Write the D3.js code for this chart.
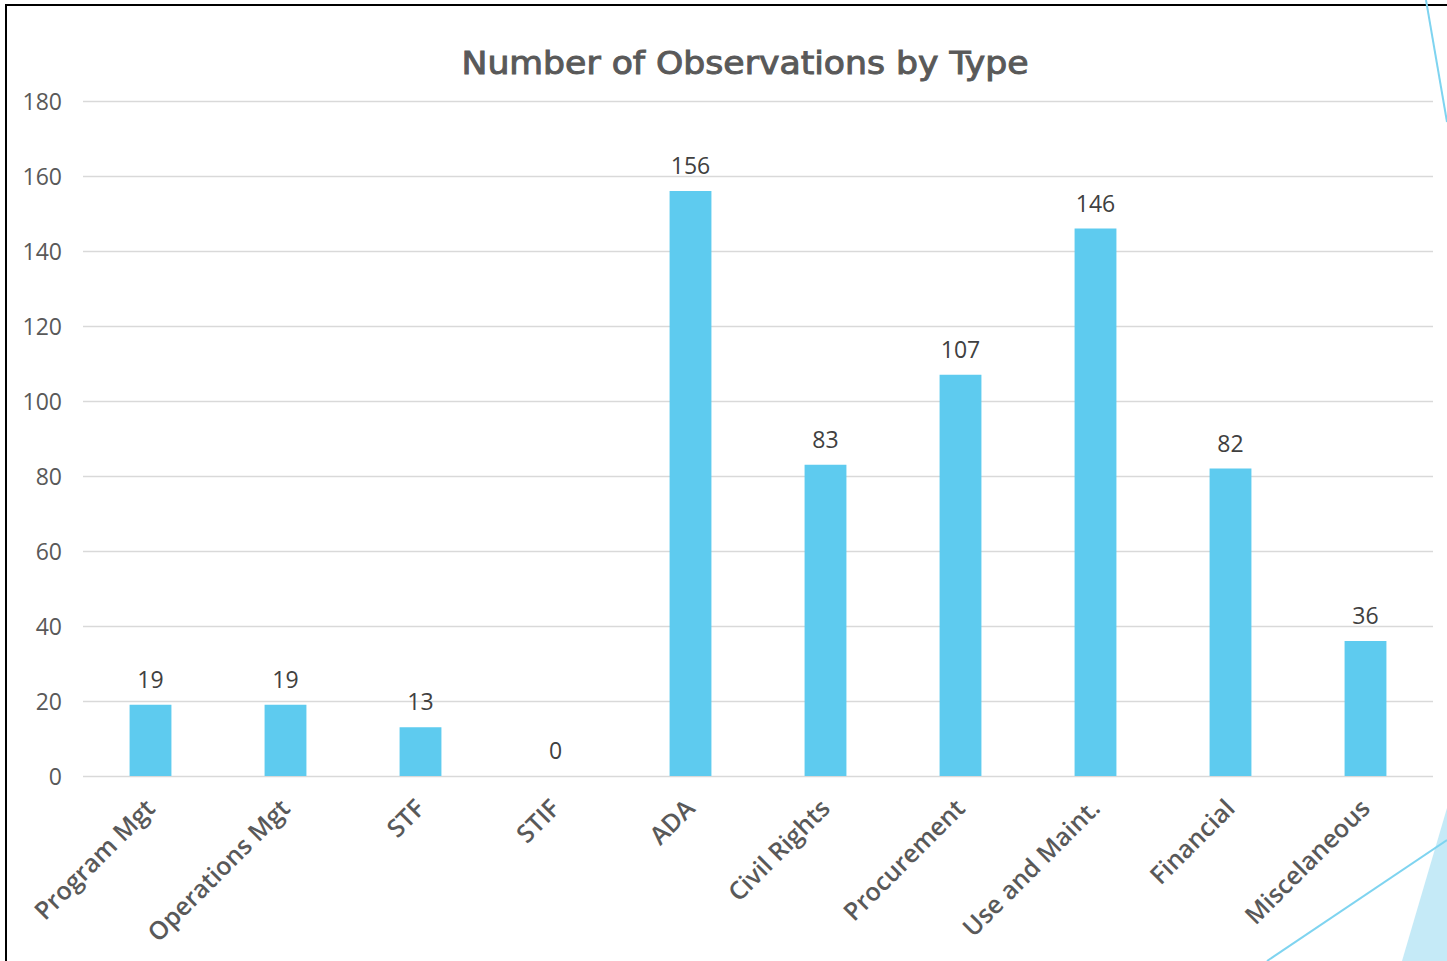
<!DOCTYPE html>
<html>
<head>
<meta charset="utf-8">
<script src="https://cdn.jsdelivr.net/npm/d3@7"></script>
<style>
  html, body { margin: 0; padding: 0; background: #ffffff; overflow: hidden; }
  svg { display: block; }
</style>
</head>
<body>
<svg id="chart" width="1447" height="961"></svg>
<script>
const categories = ["Program Mgt", "Operations Mgt", "STF", "STIF", "ADA", "Civil Rights", "Procurement", "Use and Maint.", "Financial", "Miscelaneous"];
const values = [19, 19, 13, 0, 156, 83, 107, 146, 82, 36];
const yTicks = [0, 20, 40, 60, 80, 100, 120, 140, 160, 180];
const title = "Number of Observations by Type";

const svg = d3.select("#chart");
const W = 1447, H = 961;
const margin = { left: 83, right: 14, top: 101, bottom: 185 };

// decorative frame
svg.append("rect").attr("x", 6).attr("y", 5).attr("width", W + 10).attr("height", H + 10)
  .attr("fill", "none").attr("stroke", "#000").attr("stroke-width", 2);

const x = d3.scaleBand().domain(categories).range([margin.left, W - margin.right]).paddingInner(0.69).paddingOuter(0.345);
const y = d3.scaleLinear().domain([0, 180]).range([H - margin.bottom, margin.top]);

// gridlines
const yAxis = d3.axisLeft(y).tickValues(yTicks).tickSize(-(W - margin.right - margin.left)).tickPadding(21);
const gy = svg.append("g").attr("transform", `translate(${margin.left},0)`).call(yAxis);
gy.select(".domain").remove();
gy.selectAll(".tick line").attr("stroke", "#d9d9d9").attr("stroke-width", 1.5);
gy.selectAll(".tick text").attr("fill", "#595959").style("font-family", "'Open Sans', sans-serif").style("font-size", "23px").attr("dy", "0.35em");

// bars
svg.append("g").selectAll("rect").data(values).join("rect")
  .attr("x", (d, i) => x(categories[i]))
  .attr("width", x.bandwidth())
  .attr("y", d => y(d))
  .attr("height", d => y(0) - y(d))
  .attr("fill", "#5ecbef");

// value labels
svg.append("g").selectAll("text").data(values).join("text")
  .attr("x", (d, i) => x(categories[i]) + x.bandwidth() / 2)
  .attr("y", d => y(d) - 17)
  .attr("text-anchor", "middle")
  .attr("fill", "#404040")
  .style("font-family", "'Open Sans', sans-serif")
  .style("font-size", "23px")
  .text(d => d);

// x axis labels
const xAxis = d3.axisBottom(x).tickSize(0).tickPadding(0);
const gx = svg.append("g").attr("transform", `translate(0,${y(0)})`).call(xAxis);
gx.select(".domain").remove();
gx.selectAll(".tick text")
  .attr("text-anchor", "end")
  .attr("transform", "translate(6,34) rotate(-45)")
  .attr("dy", "0")
  .attr("y", 0)
  .attr("fill", "#595959")
  .style("font-family", "'Open Sans', sans-serif")
  .style("font-weight", "600")
  .style("font-size", "25px");

// title
svg.append("text").attr("x", 745).attr("y", 74).attr("text-anchor", "middle")
  .attr("fill", "#595959")
  .attr("stroke", "#595959").attr("stroke-width", 0.9)
  .style("font-family", "'DejaVu Sans Condensed', 'DejaVu Sans', sans-serif")
  .style("font-size", "32px")
  .attr("textLength", 567).attr("lengthAdjust", "spacingAndGlyphs")
  .text(title);

// decorative lines at right
svg.append("polygon").attr("points", "1447,808 1402,961 1447,961").attr("fill", "#c5eaf7");
svg.append("line").attr("x1", 1426).attr("y1", 0).attr("x2", 1447).attr("y2", 122).attr("stroke", "#7fd4f0").attr("stroke-width", 2);
svg.append("line").attr("x1", 1267).attr("y1", 961).attr("x2", 1447).attr("y2", 840).attr("stroke", "#7fd4f0").attr("stroke-width", 2);
</script>
</body>
</html>
